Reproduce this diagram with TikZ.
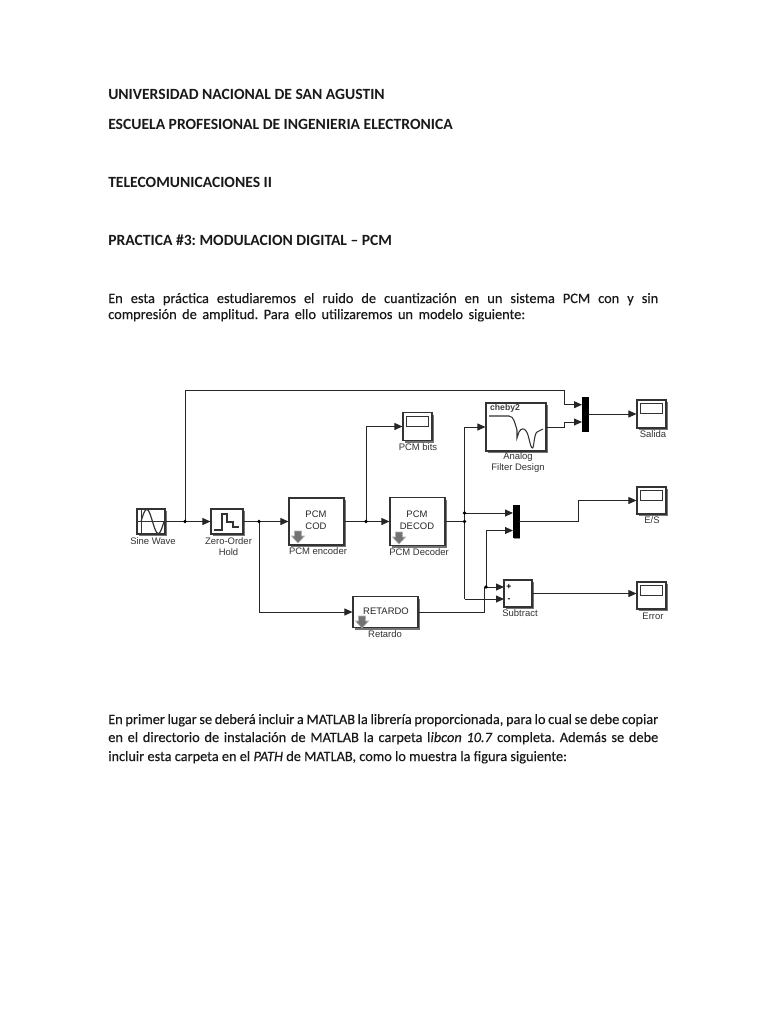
\documentclass[tikz,border=0pt]{standalone}
\usepackage{fontspec}
\setmainfont{Carlito}
\newfontfamily\diag{Liberation Sans}
\newfontfamily\semi[FakeBold=0.3]{Carlito}
\usetikzlibrary{arrows.meta,shadows,calc}
\def\u{0.75pt}
\tikzset{
  x=0.75pt,y=-0.75pt,
  blockbox/.style={draw=black!80,line width=0.8pt,fill=white,inner sep=0pt,
     drop shadow={shadow xshift=1.5pt,shadow yshift=-1.5pt,fill=black!60,opacity=0.9}},
  muxbar/.style={fill=black,draw=black,inner sep=0pt,line width=0.3pt,
     drop shadow={shadow xshift=1pt,shadow yshift=-1pt,fill=black!55,opacity=0.8}},
  tag/.style={font=\diag\fontsize{7.1}{8}\selectfont,text=black!80,inner sep=0pt,align=center},
  blocktext/.style={font=\diag\fontsize{7.1}{8}\selectfont,text=black!85,inner sep=0pt,align=center},
  head/.style={font=\fontsize{11.7}{14}\selectfont\bfseries\frenchspacing,anchor=base west,inner sep=0pt,text=black!90},
  para/.style={font=\semi\fontsize{10.75}{12}\selectfont\frenchspacing,anchor=base west,inner sep=0pt,text=black!90},
  wire/.style={draw=black!85,line width=0.75pt,-{Triangle[length=6pt,width=5.2pt]}},
  plainwire/.style={draw=black!85,line width=0.75pt},
  dotmark/.style={circle,fill=black,inner sep=0pt,minimum size=2.8pt},
  iconline/.style={draw=black!80,line width=0.7pt},
  downarrow/.style={fill=black!55,draw=white!70!black,line width=0.4pt},
}
\newcommand{\fullline}[1]{\makebox[412.5pt][s]{#1}}
\newcommand{\loadicon}[1]{%
  \begin{scope}[shift={(#1)}]
    \path[downarrow] (-3.5,-6)--(3.5,-6)--(3.5,-1)--(6.5,-1)--(0,6)--(-6.5,-1)--(-3.5,-1)--cycle;
  \end{scope}}
\newcommand{\scopeicon}[1]{%
  \draw[iconline,fill=white] ($(#1.north west)+(4,4)$) rectangle ($(#1.north east)+(-4,14)$);}
\begin{document}
\begin{tikzpicture}
\path[use as bounding box,fill=white] (0,0) rectangle (768,1024);

% text
\node[head] (t1) at (108,99) {UNIVERSIDAD NACIONAL DE SAN AGUSTIN};
\node[head] (t2) at (108,129) {ESCUELA PROFESIONAL DE INGENIERIA ELECTRONICA};
\node[head] (t3) at (108,187) {TELECOMUNICACIONES II};
\node[head] (t4) at (108,245) {PRACTICA \#3: MODULACION DIGITAL -- PCM};
\node[para] (p1) at (108,303) {\fullline{En esta práctica estudiaremos el ruido de cuantización en un sistema PCM con y sin}};
\node[para] (p2) at (108,319) {\makebox[312.75pt][s]{compresión de amplitud. Para ello utilizaremos un modelo siguiente:}};
\node[para] (p3) at (108,724) {\fullline{En primer lugar se deberá incluir a MATLAB la librería proporcionada, para lo cual se debe copiar}};
\node[para] (p4) at (108,742) {\fullline{en el directorio de instalación de MATLAB la carpeta l\textit{ibcon 10.7} completa. Además se debe}};
\node[para] (p5) at (108,761) {incluir esta carpeta en el \textit{PATH} de MATLAB, como lo muestra la figura siguiente:};

% blocks
\node[blockbox,minimum width=28*\u,minimum height=25*\u] (sine) at (151,521.5) {};
\node[blockbox,minimum width=32*\u,minimum height=25*\u] (zoh) at (227,521.5) {};
\node[blockbox,minimum width=55*\u,minimum height=47*\u] (enc) at (316.5,521.5) {};
\node[blockbox,minimum width=55*\u,minimum height=48*\u] (dec) at (417.5,521.5) {};
\node[blockbox,minimum width=65*\u,minimum height=31*\u] (ret) at (385.5,612) {};
\node[blockbox,minimum width=29*\u,minimum height=28*\u] (bits) at (417.5,426.5) {};
\node[blockbox,minimum width=60*\u,minimum height=48*\u] (filt) at (516,427) {};
\node[muxbar,minimum width=6*\u,minimum height=34*\u] (mux1) at (585,414) {};
\node[muxbar,minimum width=6*\u,minimum height=32*\u] (mux2) at (516,521.5) {};
\node[blockbox,minimum width=28*\u,minimum height=27*\u] (sub) at (518,593.5) {};
\node[blockbox,minimum width=29*\u,minimum height=28*\u] (sal) at (651.5,414) {};
\node[blockbox,minimum width=29*\u,minimum height=27*\u] (es) at (651.5,500.5) {};
\node[blockbox,minimum width=29*\u,minimum height=27*\u] (err) at (651.5,595.5) {};

% icons (under the block text)
\draw[iconline] (141,510) -- (141,533);
\draw[iconline] (138,521.5) -- (164,521.5);
\draw[iconline,line width=0.9pt] plot[domain=0:1,samples=40,smooth] ({141+23*\x},{521.5-12*sin(360*\x)});
\draw[iconline,line width=0.9pt] (214,530) -- (222,530) -- (222,514) -- (227,514) -- (227,522) -- (233,522) -- (233,527) -- (239,527);
\draw[iconline,line width=0.8pt] (489,416) -- (509,416) .. controls (514,416) and (515,424) .. (517,430) -- (517,438) -- (519,432) .. controls (521,428) and (524,428) .. (526,431) .. controls (529,434) and (530,448) .. (532.5,448) .. controls (534,448) and (534,434) .. (537,432) -- (543,429);
\scopeicon{bits}\scopeicon{sal}\scopeicon{es}\scopeicon{err}
\loadicon{298,537}
\loadicon{399,538}
\loadicon{362,622}

% block contents
\node[blocktext] (enctxt) at (316,520) {PCM\\[1.2pt]COD};
\node[blocktext] (dectxt) at (417,520) {PCM\\[1.2pt]DECOD};
\node[blocktext] (rettxt) at (386,611) {RETARDO};
\node[font=\diag\fontsize{6.5}{8}\selectfont\bfseries,text=black!75,inner sep=0pt] (cheb) at (505,408.5) {cheby2};
\node[font=\diag\fontsize{6.5}{8}\selectfont\bfseries,inner sep=0pt] (plus) at (509,587) {+};
\node[font=\diag\fontsize{6.5}{8}\selectfont\bfseries,inner sep=0pt] (minus) at (509,600) {-};

% tags
\node[tag] (l1) at (153,541.5) {Sine Wave};
\node[tag] (l2) at (228.5,541.5) {Zero-Order};
\node[tag] (l2b) at (228.5,552) {Hold};
\node[tag] (l3) at (318,551.5) {PCM encoder};
\node[tag] (l4) at (419,552.5) {PCM Decoder};
\node[tag] (l5) at (385,634.5) {Retardo};
\node[tag] (l6) at (418,447) {PCM bits};
\node[tag] (l7) at (518,457.5) {Analog};
\node[tag] (l7b) at (518,468) {Filter Design};
\node[tag] (l8) at (520,613) {Subtract};
\node[tag] (l9) at (653,434.5) {Salida};
\node[tag] (l10) at (652,520.5) {E/S};
\node[tag] (l11) at (653,616) {Error};

% ports and bends
\coordinate (j1) at (185,521.5);
\coordinate (j1up) at (185,390);
\coordinate (top) at (564,390);
\coordinate (topd) at (564,404.7);
\coordinate (m1a) at (582,404.7);
\coordinate (fo) at (546,427);
\coordinate (fod) at (564,427);
\coordinate (fou) at (564,422);
\coordinate (m1b) at (582,422);
\coordinate (j2) at (259,521.5);
\coordinate (j2d) at (259,612);
\coordinate (j3) at (366,521.5);
\coordinate (j3u) at (366,426.5);
\coordinate (j4) at (464.5,521.5);
\coordinate (j4a) at (464.5,513);
\coordinate (j4u) at (464.5,427);
\coordinate (j4d) at (464.5,599);
\coordinate (m2a) at (513,513);
\coordinate (m2b) at (513,530.5);
\coordinate (s1) at (504,587);
\coordinate (s2) at (504,599);
\coordinate (r1) at (484,612);
\coordinate (r2) at (484,587);
\coordinate (j5) at (486,587);
\coordinate (j5u) at (486,530.5);
\coordinate (m2o) at (578,521.5);
\coordinate (m2ou) at (578,500.5);

% wires
\draw[wire] (sine.east) -- (zoh.west);
\draw[wire] (j1) -- (j1up) -- (top) -- (topd) -- (m1a);
\draw[wire] (fo) -- (fod) -- (fou) -- (m1b);
\draw[wire] (mux1.east) -- (sal.west);
\draw[wire] (zoh.east) -- (enc.west);
\draw[wire] (j2) -- (j2d) -- (ret.west);
\draw[wire] (enc.east) -- (dec.west);
\draw[wire] (j3) -- (j3u) -- (bits.west);
\draw[plainwire] (dec.east) -- (j4);
\draw[wire] (j4d) -- (j4u) -- (filt.west);
\draw[wire] (j4a) -- (m2a);
\draw[wire] (j4d) -- (s2);
\draw[wire] (ret.east) -- (r1) -- (r2) -- (s1);
\draw[wire] (j5) -- (j5u) -- (m2b);
\draw[wire] (mux2.east) -- (m2o) -- (m2ou) -- (es.west);
\draw[wire] (sub.east) -- (sub.east -| err.west);

% junction dots
\node[dotmark] (d1) at (j1) {};
\node[dotmark] (d2) at (j2) {};
\node[dotmark] (d3) at (j3) {};
\node[dotmark] (d4) at (j4) {};
\node[dotmark] (d5) at (j4a) {};
\node[dotmark] (d6) at (j5) {};
\end{tikzpicture}
\end{document}
